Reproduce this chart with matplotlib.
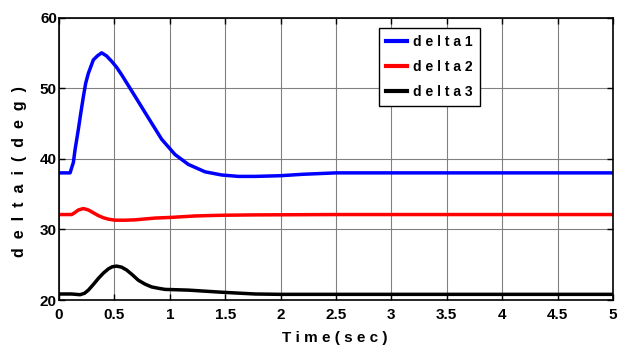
import matplotlib
matplotlib.use("Agg")
import matplotlib.pyplot as plt

# Rotor angle responses of the three machines
t1 = [0, 0.10, 0.13, 0.144, 0.175, 0.196, 0.22, 0.241, 0.265, 0.31, 0.349, 0.385,
      0.43, 0.475, 0.52, 0.565, 0.686, 0.806, 0.927, 1.047, 1.167, 1.318, 1.468,
      1.62, 1.77, 2.0, 2.2, 2.5, 5.0]
delta1 = [38, 38, 39.5, 41.2, 44.2, 46.4, 48.8, 50.7, 52.1, 54.0, 54.6, 55.0,
          54.55, 53.8, 52.95, 51.9, 48.85, 45.8, 42.75, 40.6, 39.2, 38.15, 37.7,
          37.5, 37.5, 37.6, 37.8, 38, 38]

t2 = [0, 0.115, 0.145, 0.175, 0.22, 0.265, 0.31, 0.355, 0.40, 0.445, 0.505, 0.6,
      0.686, 0.866, 1.017, 1.227, 1.47, 1.77, 2.5, 5.0]
delta2 = [32.1, 32.1, 32.4, 32.75, 32.95, 32.75, 32.35, 31.95, 31.65, 31.45, 31.3, 31.3,
          31.35, 31.6, 31.7, 31.9, 32.0, 32.05, 32.1, 32.1]

t3 = [0, 0.115, 0.19, 0.23, 0.265, 0.31, 0.355, 0.40, 0.445, 0.48, 0.52, 0.565,
      0.61, 0.66, 0.716, 0.776, 0.836, 0.9, 0.957, 1.167, 1.468, 1.77, 2.0, 5.0]
delta3 = [20.85, 20.85, 20.75, 20.95, 21.4, 22.2, 23.05, 23.8, 24.4, 24.7, 24.8, 24.65,
          24.25, 23.6, 22.8, 22.25, 21.85, 21.65, 21.5, 21.4, 21.1, 20.85, 20.8, 20.8]

series_names = ["delta1", "delta2", "delta3"]
series_colors = ["#0000ff", "#ff0000", "#000000"]

xticks = [0, 0.5, 1, 1.5, 2, 2.5, 3, 3.5, 4, 4.5, 5]
xtick_labels = ["0", "0.5", "1", "1.5", "2", "2.5", "3", "3.5", "4", "4.5", "5"]
yticks = [20, 30, 40, 50, 60]
ytick_labels = ["20", "30", "40", "50", "60"]

xlabel = "Time(sec)"
ylabel = "deltai(deg)"

FONT = "Liberation Sans"
W, H = 621, 347
left, right, top, bottom = 59, 613, 17.5, 300

fig = plt.figure(figsize=(W / 100, H / 100), dpi=100)
ax = fig.add_axes([left / W, 1 - bottom / H, (right - left) / W, (bottom - top) / H])

for t, d, name, c in zip([t1, t2, t3], [delta1, delta2, delta3], series_names, series_colors):
    ax.plot(t, d, color=c, lw=2.5, label=" ".join(name), solid_joinstyle="round")

ax.set_xlim(0, 5)
ax.set_ylim(20, 60)
ax.set_xticks(xticks)
ax.set_xticklabels(xtick_labels, fontfamily=FONT, fontweight="bold", fontsize=11)
ax.set_yticks(yticks)
ax.set_yticklabels(ytick_labels, fontfamily=FONT, fontweight="bold", fontsize=11)
ax.tick_params(direction="in", length=4, width=1, top=True, right=True)
ax.tick_params(axis="x", pad=6)
ax.tick_params(axis="y", pad=1.5)
ax.grid(True, color="0.5", lw=0.8)
ax.set_axisbelow(True)
for s in ax.spines.values():
    s.set_linewidth(1.2)

ax.set_xlabel(" ".join(xlabel), fontfamily=FONT, fontweight="bold", fontsize=11)
ax.xaxis.set_label_coords((335 - left) / (right - left), (bottom - 338) / (bottom - top))
ax.xaxis.label.set_va("center")

ax.set_ylabel("  ".join(ylabel), fontfamily=FONT, fontweight="bold", fontsize=11.5)
ax.yaxis.set_label_coords((20 - left) / (right - left), (bottom - 172) / (bottom - top))
ax.yaxis.label.set_va("center")

leg = ax.legend(loc="upper left",
                bbox_to_anchor=((379 - left) / (right - left), (bottom - 28) / (bottom - top)),
                borderaxespad=0, fancybox=False, framealpha=1, edgecolor="black",
                prop={"family": FONT, "weight": "bold", "size": 10},
                handlelength=1.5, handletextpad=0.45, labelspacing=0.8, borderpad=0.5)
leg.get_frame().set_linewidth(1.0)
for line in leg.get_lines():
    line.set_linewidth(3)

fig.savefig("out.png", dpi=100)
